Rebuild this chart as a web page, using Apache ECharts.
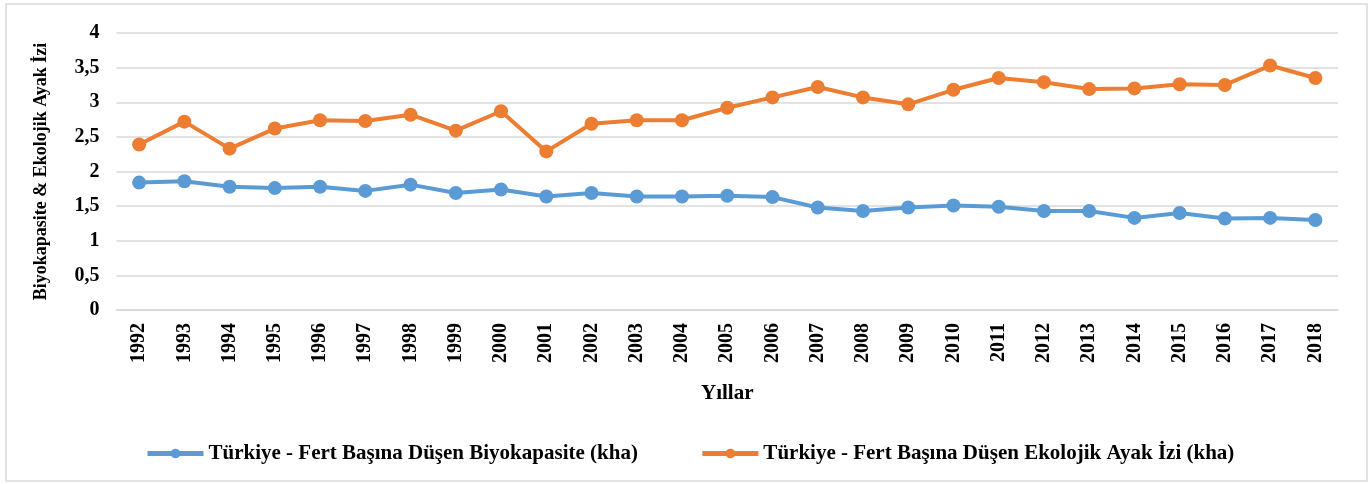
<!DOCTYPE html>
<html>
<head>
<meta charset="utf-8">
<script src="https://cdn.jsdelivr.net/npm/echarts@6/dist/echarts.min.js"></script>
<style>
html,body{margin:0;padding:0;background:#fff;}
#chart{width:1370px;height:484px;}
</style>
</head>
<body>
<div id="chart"></div>
<script>
const years = ['1992','1993','1994','1995','1996','1997','1998','1999','2000','2001','2002','2003','2004','2005','2006','2007','2008','2009','2010','2011','2012','2013','2014','2015','2016','2017','2018'];
const biyokapasite = [1.84,1.86,1.78,1.76,1.78,1.72,1.81,1.69,1.74,1.64,1.69,1.64,1.64,1.65,1.63,1.48,1.43,1.48,1.51,1.49,1.43,1.43,1.33,1.40,1.32,1.33,1.30];
const ayakIzi = [2.39,2.72,2.33,2.62,2.74,2.73,2.82,2.59,2.87,2.29,2.69,2.74,2.74,2.92,3.07,3.22,3.07,2.97,3.18,3.35,3.29,3.19,3.20,3.26,3.25,3.53,3.35];
const seriesNames = ['Türkiye - Fert Başına Düşen Biyokapasite (kha)','Türkiye - Fert Başına Düşen Ekolojik Ayak İzi (kha)'];
const xAxisName = 'Yıllar';
const yAxisName = 'Biyokapasite & Ekolojik Ayak İzi';

const FONT = '"Liberation Serif", "Times New Roman", serif';
const chart = echarts.init(document.getElementById('chart'), null, {renderer:'canvas'});
chart.setOption({
  backgroundColor:'#fff',
  animation:false,
  graphic:[{type:'rect',shape:{x:6,y:4,width:1361,height:477},style:{fill:'none',stroke:'#d9d9d9',lineWidth:1.5},silent:true,z:-1}],
  grid:{left:116.5,right:32,top:33,bottom:174,containLabel:false},
  legend:{
    top:438,left:140,itemGap:62,itemWidth:56,itemHeight:12,
    lineStyle:{width:5},
    textStyle:{fontFamily:FONT,fontWeight:'bold',fontSize:21,color:'#000'},
    data:seriesNames
  },
  xAxis:{
    type:'category',data:years,boundaryGap:true,
    name:xAxisName,nameLocation:'middle',nameGap:73,
    nameTextStyle:{fontFamily:FONT,fontWeight:'bold',fontSize:21,color:'#000'},
    axisLine:{show:true,lineStyle:{color:'#d9d9d9',width:1.5}},
    axisTick:{show:false},
    axisLabel:{rotate:90,margin:13,fontFamily:FONT,fontWeight:'bold',fontSize:20,color:'#000'}
  },
  yAxis:{
    type:'value',min:0,max:4,interval:0.5,
    name:yAxisName,nameLocation:'middle',nameGap:66,nameRotate:90,
    nameTextStyle:{fontFamily:FONT,fontWeight:'bold',fontSize:18,color:'#000'},
    axisLine:{show:false},axisTick:{show:false},
    splitLine:{lineStyle:{color:'#d9d9d9',width:1.5}},
    axisLabel:{margin:17,fontFamily:FONT,fontWeight:'bold',fontSize:20,color:'#000',
      formatter:v=>String(v).replace('.',',')}
  },
  series:[
    {name:seriesNames[0],type:'line',data:biyokapasite,symbol:'circle',symbolSize:14,
      lineStyle:{color:'#5B9BD5',width:4},itemStyle:{color:'#5B9BD5'}},
    {name:seriesNames[1],type:'line',data:ayakIzi,symbol:'circle',symbolSize:14,
      lineStyle:{color:'#ED7D31',width:4},itemStyle:{color:'#ED7D31'}}
  ]
});
</script>
</body>
</html>
